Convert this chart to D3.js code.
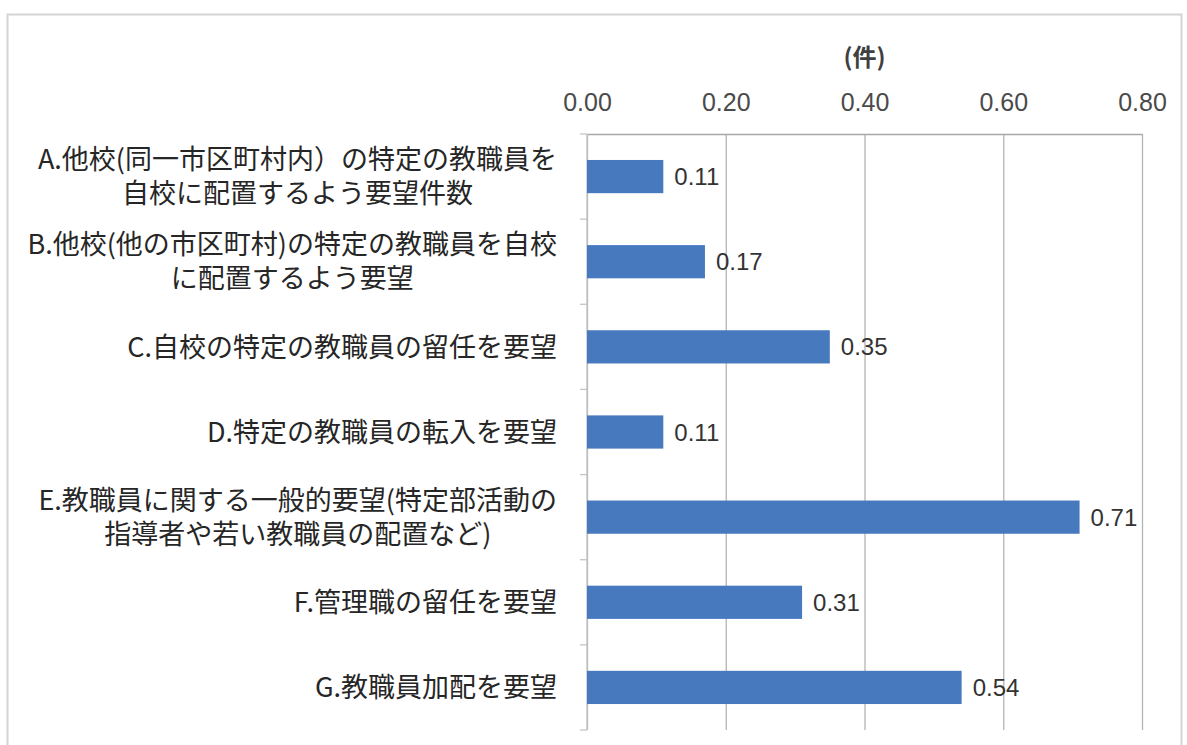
<!DOCTYPE html>
<html>
<head>
<meta charset="utf-8">
<script src="https://cdn.jsdelivr.net/npm/d3@7"></script>
<style>
  html, body { margin: 0; padding: 0; background: #fff; }
  svg { display: block; }
</style>
</head>
<body>
<svg id="chart" width="1187" height="745"></svg>
<script>
const categories = ["A", "B", "C", "D", "E", "F", "G"];
const categoryLabels = [
  ["A.他校(同一市区町村内）の特定の教職員を", "自校に配置するよう要望件数"],
  ["B.他校(他の市区町村)の特定の教職員を自校", "に配置するよう要望"],
  ["C.自校の特定の教職員の留任を要望"],
  ["D.特定の教職員の転入を要望"],
  ["E.教職員に関する一般的要望(特定部活動の", "指導者や若い教職員の配置など)"],
  ["F.管理職の留任を要望"],
  ["G.教職員加配を要望"]
];
const values = [0.11, 0.17, 0.35, 0.11, 0.71, 0.31, 0.54];
const valueLabels = ["0.11", "0.17", "0.35", "0.11", "0.71", "0.31", "0.54"];
const tickValues = [0, 0.2, 0.4, 0.6, 0.8];
const tickLabels = ["0.00", "0.20", "0.40", "0.60", "0.80"];
const unitLabel = "(件)";

const svg = d3.select("#chart");
const plotLeft = 587, plotRight = 1142, plotTop = 134, plotBottom = 730;
const cjk = "'Noto Sans CJK JP', 'Noto Sans', sans-serif";
const num = "'Liberation Sans', Arial, sans-serif";

// chart frame
svg.append("path")
  .attr("d", "M7.5,760 L7.5,14.5 L1181.5,14.5 L1181.5,760")
  .attr("fill", "none").attr("stroke", "#d4d4d4").attr("stroke-width", 2);

const x = d3.scaleLinear().domain([0, 0.8]).range([plotLeft, plotRight]);
const y = d3.scaleBand().domain(categories).range([plotTop, plotBottom])
  .paddingInner(0.61).paddingOuter(0.305);

// gridlines
svg.append("g").attr("transform", `translate(0,${plotTop})`)
  .call(d3.axisTop(x).tickValues(tickValues).tickSize(-(plotBottom - plotTop)).tickFormat(""))
  .call(g => g.select(".domain").remove())
  .call(g => g.selectAll("line").attr("stroke", "#b4b4b4").attr("stroke-width", 1.3));

// top axis
svg.append("g").attr("transform", `translate(0,${plotTop})`)
  .call(d3.axisTop(x).tickValues(tickValues).tickSize(0).tickPadding(23)
    .tickFormat((d, i) => tickLabels[i]))
  .call(g => g.select(".domain").attr("stroke", "#a8a8a8").attr("stroke-width", 1.3))
  .call(g => g.selectAll("text").attr("font-family", num).attr("font-size", 25).attr("fill", "#4a4a4a"));

// unit label
svg.append("text")
  .attr("x", (plotLeft + plotRight) / 2).attr("y", 66)
  .attr("text-anchor", "middle")
  .attr("font-family", cjk).attr("font-size", 24).attr("font-weight", "bold").attr("fill", "#404040")
  .text(unitLabel);

// category axis line and ticks
const step = y.step();
svg.append("line").attr("x1", plotLeft).attr("x2", plotLeft).attr("y1", plotTop).attr("y2", plotBottom)
  .attr("stroke", "#c4c4c4").attr("stroke-width", 1.3);
svg.append("g").selectAll("line")
  .data(d3.range(categories.length + 1))
  .join("line")
  .attr("x1", plotLeft - 7).attr("x2", plotLeft)
  .attr("y1", i => plotTop + i * step).attr("y2", i => plotTop + i * step)
  .attr("stroke", "#c4c4c4").attr("stroke-width", 1.3);

// bars
svg.append("g").selectAll("rect")
  .data(values)
  .join("rect")
  .attr("x", x(0))
  .attr("y", (d, i) => y(categories[i]))
  .attr("width", d => x(d) - x(0))
  .attr("height", y.bandwidth())
  .attr("fill", "#4679bd");

// value labels
svg.append("g").selectAll("text")
  .data(values)
  .join("text")
  .attr("x", d => x(d) + 11)
  .attr("y", (d, i) => y(categories[i]) + y.bandwidth() / 2)
  .attr("dy", "0.36em")
  .attr("font-family", num).attr("font-size", 24).attr("fill", "#333")
  .text((d, i) => valueLabels[i]);

// category labels: one text per category, lines as tspans centred within a right-aligned block
const labelRight = 557;
const lineH = 34;
categoryLabels.forEach((lines, i) => {
  const cy = y(categories[i]) + y.bandwidth() / 2;
  const t = svg.append("text")
    .attr("font-family", cjk).attr("font-size", 27).attr("fill", "#262626")
    .attr("text-anchor", "middle");
  const spans = lines.map((s, j) => t.append("tspan")
    .attr("y", cy + (j - (lines.length - 1) / 2) * lineH)
    .attr("dy", "0.36em")
    .text(s));
  const maxW = d3.max(spans.map(s => s.node().getComputedTextLength()));
  spans.forEach(s => s.attr("x", labelRight - maxW / 2));
});
</script>
</body>
</html>
